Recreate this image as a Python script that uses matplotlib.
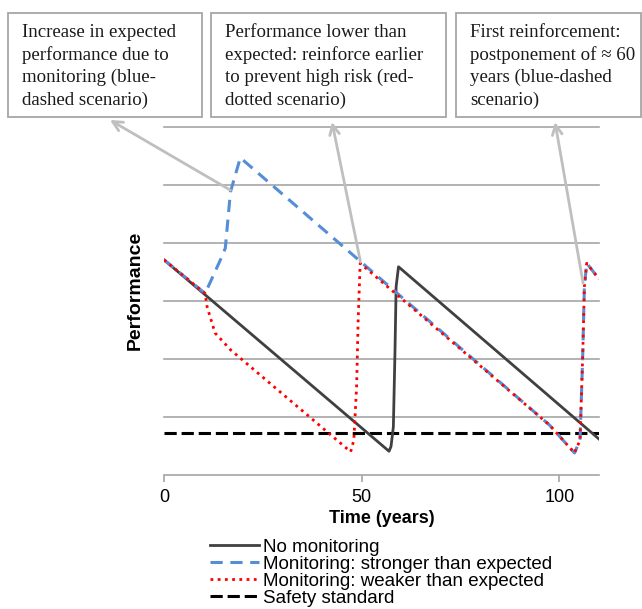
import matplotlib
matplotlib.use("Agg")
import matplotlib.pyplot as plt
from matplotlib.patches import Rectangle

# data (performance in gridline units, time in years)
no_mon_x = [0, 56.9, 57.4, 58.0, 58.4, 58.7, 59.3, 110]
no_mon_y = [3.71, 0.41, 0.49, 0.83, 2.10, 3.25, 3.59, 0.62]

strong_x = [0, 10.4, 14.6, 15.5, 16.8, 19.3, 49.7, 97.5, 103.8, 105.2, 105.9, 106.3, 106.9, 110]
strong_y = [3.71, 3.13, 3.76, 3.91, 4.88, 5.47, 3.68, 0.86, 0.38, 0.60, 2.10, 3.25, 3.65, 3.38]

weak_x = [0, 10.4, 10.9, 12.9, 16.8, 47.2, 48.0, 48.7, 49.1, 49.6, 97.5, 103.8, 105.2, 105.9, 106.3, 106.9, 110]
weak_y = [3.71, 3.13, 2.90, 2.45, 2.16, 0.40, 0.60, 1.52, 2.67, 3.65, 0.86, 0.38, 0.60, 2.10, 3.25, 3.65, 3.38]

safety_y = 0.73
x_ticks = [0, 50, 100]
grid_levels = [1, 2, 3, 4, 5, 6]

labels = ["No monitoring", "Monitoring: stronger than expected",
          "Monitoring: weaker than expected", "Safety standard"]

notes = [
    "Increase in expected\nperformance due to\nmonitoring (blue-\ndashed scenario)",
    "Performance lower than\nexpected: reinforce earlier\nto prevent high risk (red-\ndotted scenario)",
    "First reinforcement:\npostponement of \u2248 60\nyears (blue-dashed\nscenario)",
]
note_targets = [(16.8, 4.91), (49.7, 3.67), (106.0, 3.30)]

W, H = 642, 609
fig = plt.figure(figsize=(W / 100, H / 100), dpi=100)
ax = fig.add_axes([164 / W, 1 - 475 / H, (599 - 164) / W, (475 - 127) / H])
ax.set_xlim(0, 110)
ax.set_ylim(0, 6)

for g in grid_levels:
    ax.axhline(g, color="#A6A6A6", lw=1.2, zorder=1, clip_on=False)

l_safe, = ax.plot([0, 110], [safety_y, safety_y], color="black", lw=2.2,
                  dashes=(4, 1.6), zorder=2)
l_none, = ax.plot(no_mon_x, no_mon_y, color="#404040", lw=2.0, zorder=3)
l_strong, = ax.plot(strong_x, strong_y, color="#558ED5", lw=2.2,
                    dashes=(4, 2.5), zorder=4)
l_weak, = ax.plot(weak_x, weak_y, color="#FF0000", lw=2.0,
                  linestyle=(0, (1, 1.6)), zorder=5)

for s in ["top", "right", "left"]:
    ax.spines[s].set_visible(False)
ax.spines["bottom"].set_color("#A6A6A6")
ax.spines["bottom"].set_linewidth(1.2)
ax.set_yticks([])
ax.set_xticks(x_ticks)
ax.tick_params(axis="x", color="#A6A6A6", length=5, width=1.2, labelsize=13, pad=5)
for t in ax.get_xticklabels():
    t.set_fontfamily("Liberation Sans")
ax.set_xlabel("Time (years)", fontsize=13, fontweight="bold",
              family="Liberation Sans", labelpad=3)
ax.set_ylabel("Performance", fontsize=14, fontweight="bold",
              family="Liberation Sans")
ax.yaxis.set_label_coords(-0.046, 0.530)

# annotation boxes
boxes = [(8, 202), (211, 446), (456, 641)]
heads = [(110, 120), (332, 122), (555, 122)]
for (x0, x1), txt, head, tgt in zip(boxes, notes, heads, note_targets):
    fig.patches.append(Rectangle((x0 / W, 1 - 117 / H), (x1 - x0) / W, 104 / H,
                                 transform=fig.transFigure, fill=False,
                                 edgecolor="#A6A6A6", lw=1.3))
    fig.text((x0 + 14) / W, 1 - 24 / H, txt, ha="left", va="top", fontsize=13.6,
             family=["Liberation Serif", "DejaVu Serif"], color="#1a1a1a",
             linespacing=1.38)
    ax.annotate("", xy=(head[0] / W, 1 - head[1] / H), xycoords="figure fraction",
                xytext=tgt, textcoords="data", annotation_clip=False,
                arrowprops=dict(arrowstyle="->,head_length=0.7,head_width=0.35",
                                color="#BFBFBF", lw=2, shrinkA=0, shrinkB=0),
                zorder=7)

fig.legend([l_none, l_strong, l_weak, l_safe], labels, loc="upper left",
           bbox_to_anchor=(201 / W, 1 - 529 / H), frameon=False,
           prop={"family": "Liberation Sans", "size": 13.5}, borderpad=0,
           labelspacing=0.0, handlelength=2.6, handletextpad=0.2)

fig.savefig("out.png", dpi=100)
